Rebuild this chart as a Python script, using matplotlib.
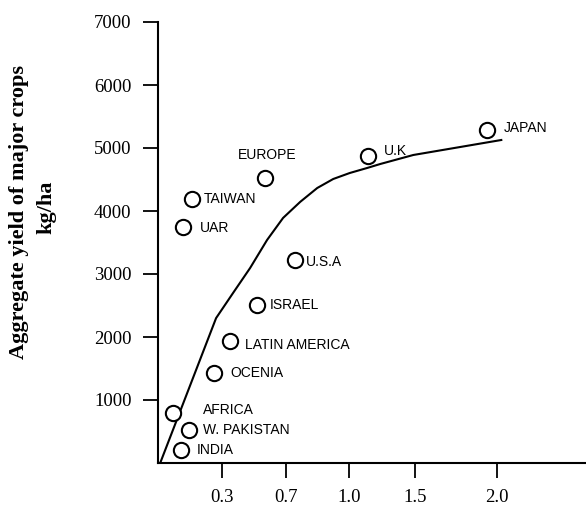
"""
Aggregate yield of major crops vs. input, scatter of regions with fitted curve
"""

import numpy as np
import matplotlib.pyplot as plt

# region points
regions = ["JAPAN", "U.K", "EUROPE", "TAIWAN", "UAR", "U.S.A", "ISRAEL",
           "LATIN AMERICA", "OCENIA", "AFRICA", "W. PAKISTAN", "INDIA"]
region_x = [1.94, 1.14, 0.57, 0.16, 0.117, 0.74, 0.52, 0.35, 0.262, 0.07, 0.145, 0.11]
region_y = [5280, 4880, 4520, 4190, 3745, 3220, 2510, 1940, 1430, 795, 525, 205]

# curve through the points
curve_x = [0.012, 0.272, 0.369, 0.475, 0.581, 0.681, 0.767, 0.848, 0.924,
           1.004, 1.136, 1.235, 1.485, 2.024]
curve_y = [15, 2300, 2700, 3095, 3540, 3890, 4145, 4365, 4508,
           4603, 4683, 4746, 4889, 5127]

x_ticks = [0.3, 0.7, 1.0, 1.5, 2.0]
y_ticks = [1000, 2000, 3000, 4000, 5000, 6000, 7000]

# the printed x axis is not evenly spaced; map tick values onto their drawn spacing
scale_vals = [0.0, 0.3, 0.7, 1.0, 1.5, 2.0, 5.0]
scale_pos = [0, 64, 128, 191, 257, 339, 831]

# label offsets in points (dx, dy, ha)
label_offsets = {
    "JAPAN": (11.5, 2, "left"),
    "U.K": (11.5, 3, "left"),
    "EUROPE": (1, 16.5, "center"),
    "TAIWAN": (8, 0, "left"),
    "UAR": (12, -1, "left"),
    "U.S.A": (8.5, -1, "left"),
    "ISRAEL": (9, 0, "left"),
    "LATIN AMERICA": (11, -3, "left"),
    "OCENIA": (11.5, 0, "left"),
    "AFRICA": (21.5, 2, "left"),
    "W. PAKISTAN": (10, 0, "left"),
    "INDIA": (11, 0, "left"),
}


def forward(x):
    return np.interp(x, scale_vals, scale_pos)


def inverse(p):
    return np.interp(p, scale_pos, scale_vals)


def make_plot():
    fig = plt.figure(figsize=(5.86, 5.08), dpi=100)
    ax = fig.add_axes([158 / 586, 45 / 508, 1 - 158 / 586, 441 / 508])
    ax.set_xscale('function', functions=(forward, inverse))

    ax.plot(curve_x, curve_y, color='black', lw=1.5)
    ax.plot(region_x, region_y, 'o', ms=11, mfc='white', mec='black', mew=1.5)

    for name, x, y in zip(regions, region_x, region_y):
        dx, dy, ha = label_offsets[name]
        ax.annotate(name, (x, y), xytext=(dx, dy), textcoords='offset points',
                    ha=ha, va='center', fontsize=10, family='Liberation Sans')

    ax.set_xlim(0, 2.54)
    ax.set_ylim(0, 7000)
    ax.set_xticks(x_ticks)
    ax.set_xticklabels([f"{v:.1f}" for v in x_ticks])
    ax.set_yticks(y_ticks)
    ax.minorticks_off()

    for lab in ax.get_xticklabels() + ax.get_yticklabels():
        lab.set_family('Liberation Serif')
        lab.set_fontsize(13.5)

    ax.tick_params(axis='both', direction='out', length=11, width=1.3, color='black')
    ax.tick_params(axis='y', pad=8)
    ax.tick_params(axis='x', pad=8)

    for side in ['top', 'right']:
        ax.spines[side].set_visible(False)
    for side in ['left', 'bottom']:
        ax.spines[side].set_linewidth(1.5)

    fig.text(19 / 586, 1 - 212 / 508, "Aggregate yield of major crops", rotation=90,
             ha='center', va='center', fontsize=16, fontweight='bold', family='Liberation Serif')
    fig.text(46 / 586, 1 - 207 / 508, "kg/ha", rotation=90,
             ha='center', va='center', fontsize=16, fontweight='bold', family='Liberation Serif')

    fig.savefig('out.png', dpi=100)


if __name__ == '__main__':
    make_plot()
